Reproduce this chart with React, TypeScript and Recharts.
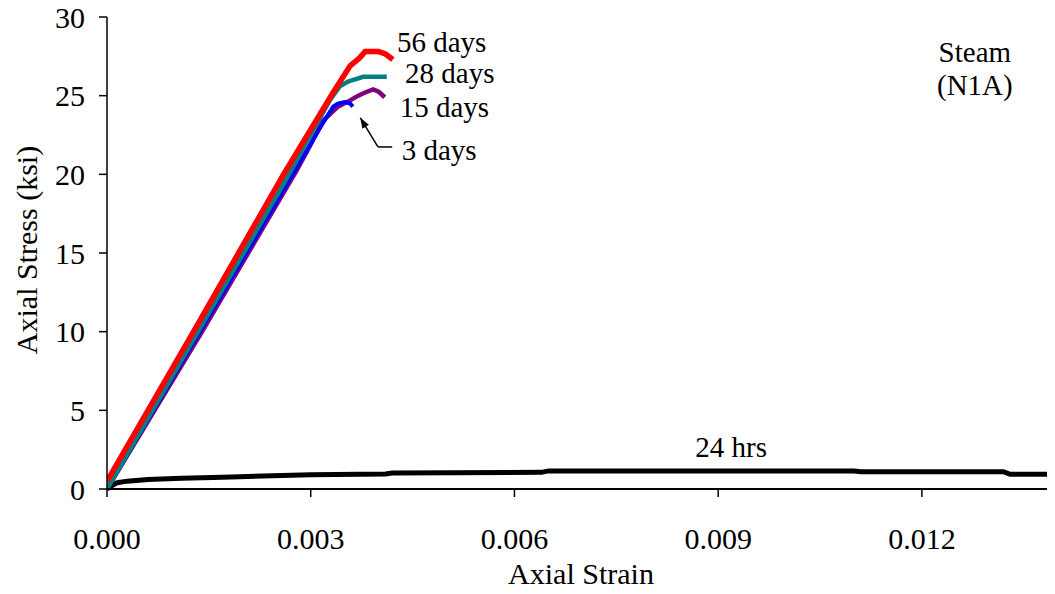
import { LineChart, Line, XAxis, YAxis, ReferenceDot, ReferenceLine } from 'recharts';

// [strain, stress (ksi)]
const days56: [number, number][] = [
  [0, 0.5], [0.0013, 10.2], [0.0026, 20.0], [0.00333, 25.2],
  [0.00358, 26.9], [0.00372, 27.4], [0.0038, 27.8], [0.004, 27.8], [0.0041, 27.65], [0.00421, 27.3],
];
const days28: [number, number][] = [
  [0, 0], [0.0013, 9.7], [0.0026, 19.4], [0.00328, 24.7], [0.00343, 25.6], [0.00355, 25.9],
  [0.0037, 26.1], [0.00377, 26.2], [0.00412, 26.2],
];
const days15: [number, number][] = [
  [0, 0], [0.0014, 10.0], [0.0028, 20.3], [0.003, 21.9], [0.00318, 23.4], [0.0034, 24.3], [0.00358, 24.7],
  [0.0037, 25.0], [0.0038, 25.2], [0.00392, 25.4], [0.004, 25.25], [0.00409, 24.9],
];
const days3: [number, number][] = [
  [0, 0], [0.0013, 9.5], [0.0026, 19.0], [0.0032, 23.4], [0.00333, 24.3], [0.0034, 24.5],
  [0.0035, 24.6], [0.00358, 24.5], [0.00362, 24.3],
];
const hrs24: [number, number][] = [
  [0, 0], [0.00005, 0.15], [0.00015, 0.4], [0.0003, 0.5], [0.0006, 0.6], [0.0011, 0.68],
  [0.0017, 0.75], [0.0023, 0.82], [0.003, 0.9], [0.0041, 0.95], [0.0042, 1.02], [0.0064, 1.06],
  [0.0065, 1.15], [0.011, 1.15], [0.0111, 1.1], [0.0132, 1.1], [0.0133, 0.93], [0.01396, 0.93],
];

const strainTicks = [0, 0.003, 0.006, 0.009, 0.012];
const stressTicks = [0, 5, 10, 15, 20, 25, 30];

// curve labels: text, strain, stress, anchor
const notes: [string, number, number, 'start' | 'middle'][] = [
  ['56 days', 0.00427, 28.4, 'start'],
  ['28 days', 0.00439, 26.45, 'start'],
  ['15 days', 0.00431, 24.3, 'start'],
  ['3 days', 0.00434, 21.55, 'start'],
  ['24 hrs', 0.00919, 2.64, 'middle'],
  ['Steam', 0.01278, 27.75, 'middle'],
  ['(N1A)', 0.01278, 25.7, 'middle'],
];

// leader for the 3 days label
const arrowTail = { x: 0.0042, y: 21.74 };
const arrowElbow = { x: 0.00399, y: 21.74 };
const arrowHead = { x: 0.00373, y: 23.59 };

const font = '"Liberation Serif", "Times New Roman", serif';
const toPts = (arr: [number, number][]) => arr.map(([strain, stress]) => ({ strain, stress }));

const series = [
  { name: '24 hrs', data: hrs24, color: '#000000', width: 5 },
  { name: '15 days', data: days15, color: '#800080', width: 4.5 },
  { name: '3 days', data: days3, color: '#0000FF', width: 4 },
  { name: '28 days', data: days28, color: '#008080', width: 4.5 },
  { name: '56 days', data: days56, color: '#FF0000', width: 5.5 },
];

const XTick = ({ x, y, payload }: any) => (
  <text x={x} y={y} dy="0.7em" textAnchor="middle" fontSize={30} fontFamily={font} fill="#000">
    {Number(payload.value).toFixed(3)}
  </text>
);

const YTick = ({ x, y, payload }: any) => (
  <text x={x} y={y} textAnchor="end" dominantBaseline="central" fontSize={30} fontFamily={font} fill="#000">
    {payload.value}
  </text>
);

const XLabel = ({ viewBox }: any) => (
  <text
    x={viewBox.x + viewBox.width / 2}
    y={viewBox.y + viewBox.height - 10}
    textAnchor="middle"
    fontSize={30}
    fontFamily={font}
    fill="#000"
  >
    Axial Strain
  </text>
);

const YLabel = ({ viewBox }: any) => {
  const cx = 26;
  const cy = viewBox.y + viewBox.height / 2 - 3;
  return (
    <text
      x={cx}
      y={cy}
      transform={`rotate(-90, ${cx}, ${cy})`}
      textAnchor="middle"
      dominantBaseline="central"
      fontSize={30}
      fontFamily={font}
      fill="#000"
    >
      Axial Stress (ksi)
    </text>
  );
};

const ArrowShape = (props: any) => {
  const { x1, y1, x2, y2 } = props;
  if (x1 == null) return null;
  const ang = Math.atan2(y2 - y1, x2 - x1);
  const len = 11;
  const spread = 0.35;
  const p1 = [x2 - len * Math.cos(ang - spread), y2 - len * Math.sin(ang - spread)];
  const p2 = [x2 - len * Math.cos(ang + spread), y2 - len * Math.sin(ang + spread)];
  return (
    <g>
      <line x1={x1} y1={y1} x2={x2} y2={y2} stroke="#000" strokeWidth={1.5} />
      <polygon points={`${x2},${y2} ${p1[0]},${p1[1]} ${p2[0]},${p2[1]}`} fill="#000" />
    </g>
  );
};

export default function App() {
  return (
    <div style={{ margin: -8, background: '#fff', width: 1055, height: 594 }}>
      <LineChart width={1055} height={594} margin={{ top: 17, right: 0, left: 0, bottom: 0 }}>
        <XAxis
          type="number"
          dataKey="strain"
          domain={[0, 0.01396]}
          allowDataOverflow
          ticks={strainTicks}
          height={105}
          tickSize={8}
          tickMargin={31}
          axisLine={{ stroke: '#000', strokeWidth: 2 }}
          tickLine={{ stroke: '#000', strokeWidth: 1.5 }}
          tick={XTick}
          label={XLabel}
        />
        <YAxis
          type="number"
          domain={[0, 30]}
          ticks={stressTicks}
          width={107}
          tickSize={8}
          tickMargin={14}
          axisLine={{ stroke: '#000', strokeWidth: 1.5 }}
          tickLine={{ stroke: '#000', strokeWidth: 1.5 }}
          tick={YTick}
          label={YLabel}
        />
        {series.map((s) => (
          <Line
            key={s.name}
            data={toPts(s.data)}
            dataKey="stress"
            type="linear"
            stroke={s.color}
            strokeWidth={s.width}
            dot={false}
            isAnimationActive={false}
          />
        ))}
        <ReferenceLine segment={[arrowTail, arrowElbow]} stroke="#000" strokeWidth={1.5} />
        <ReferenceLine segment={[arrowElbow, arrowHead]} shape={ArrowShape} />
        {notes.map(([text, x, y, anchor]) => (
          <ReferenceDot
            key={text}
            x={x}
            y={y}
            r={0}
            shape={(p: any) => (
              <text
                x={p.cx}
                y={p.cy}
                textAnchor={anchor}
                dominantBaseline="central"
                fontSize={29}
                fontFamily={font}
                fill="#000"
              >
                {text}
              </text>
            )}
          />
        ))}
      </LineChart>
    </div>
  );
}
